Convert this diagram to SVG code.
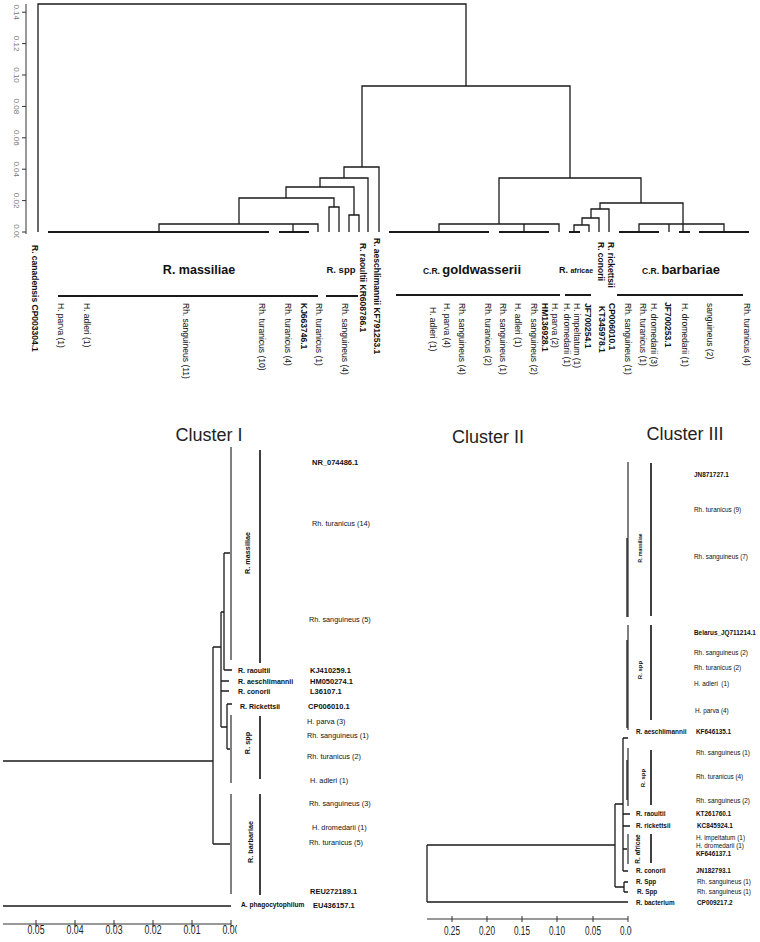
<svg xmlns="http://www.w3.org/2000/svg" width="760" height="942" viewBox="0 0 760 942">
<style>
text{font-family:"Liberation Sans",Arial,sans-serif;fill:#111}
.b{font-weight:bold}
.tl{font-size:8.5px}
.c1{font-size:7.3px}
.c1b{font-size:7.5px;font-weight:bold}
.c1n{font-size:7px;font-weight:bold}
.c3{font-size:6.4px}
.c3b{font-size:6.4px;font-weight:bold}
.ax{font-size:12px;fill:#222}
.yax{font-size:8px;fill:#777}
.title{font-size:18px;fill:#222}
.tr{fill:none;stroke:#1a1a1a;stroke-width:1.3}
.lb{fill:none;stroke:#1a1a1a;stroke-width:2}
.gr{fill:none;stroke:#808080;stroke-width:2}
.bar{fill:none;stroke:#111;stroke-width:1.6}
.axl{fill:none;stroke:#333;stroke-width:1}
</style>
<defs>
<clipPath id="clipA"><rect x="0" y="0" width="237" height="942"/></clipPath>
<clipPath id="clipB"><rect x="0" y="0" width="632" height="942"/></clipPath>
<clipPath id="clipY"><rect x="0" y="0" width="760" height="238"/></clipPath>
</defs>

<g id="connectors">
<path class="axl" stroke="#888" d="M26,4V234M22,232H26M22,200.6H26M22,169.2H26M22,137.8H26M22,106.4H26M22,75H26M22,43.6H26M22,12.2H26"/>
<path class="tr" d="M38,232V4H466V86M362,167V86H570V178M344,178V167H379V232M320,187V178H368V232M286,198V187H354V215M349,232V215H359V232M239,224V198H334V207M329,232V207H339V232M159,232V224H318V232M293,224V232"/>
<path class="tr" d="M499,224V178H641V203M439,232V224H559V232M524,224V232M600,209V203H683V232M591,218V209H609V232M582,225V218H599V232M574,232V225H589V232M639,232V224H724V232M669,224V232"/>
<path class="lb" d="M48,232H269M279,232H309M389,232H489M499,232H549M569,232H580M619,232H659M679,232H690M699,232H749"/>
<path class="lb" d="M58,296H318M326,296H358M396,295H560M565,295H591M617,295H743"/>
<path class="tr" d="M3,761H213M3,906H231M213,647V844M213,647H221M213,844H231M221,612V727M221,612H224M221,681H229M221,691H229M221,727H227M224,553V670M224,553H231M224,670H232M227,704V749M227,704H232M227,749H231"/>
<path class="gr" d="M231,447V660M231,715V783M231,794V894"/>
<path class="bar" d="M260,450V663M260,716V779M260,794V895"/>
<path class="axl" d="M3,924H231M36,920V927M75,920V927M114,920V927M153,920V927M192,920V927M231,920V927"/>
<path class="tr" d="M427,845V902M427,845H615M427,902H628M615,804V887M615,804H623M615,887H624M624,882V892M624,882H628M624,892H628M623,738V871M623,738H628M623,814H630M623,826H630M623,849H628M623,871H628"/>
<path class="gr" d="M628,462V617M628,625V730M628,748V806M628,834V864"/>
<path class="tr" d="M627,538V617M627,640V728M627,760V800"/>
<path class="bar" d="M651,463V616M651,625V720M651,750V805M651,834V863"/>
<path class="axl" d="M427,919H628M452,916V922M487,916V922M522,916V922M557,916V922M593,916V922M628,916V922"/>
</g>

<g id="top-axis-labels" clip-path="url(#clipY)">
<text class="yax" text-anchor="middle" transform="translate(14.2,12.2) rotate(90)">0.14</text>
<text class="yax" text-anchor="middle" transform="translate(14.2,43.6) rotate(90)">0.12</text>
<text class="yax" text-anchor="middle" transform="translate(14.2,75) rotate(90)">0.10</text>
<text class="yax" text-anchor="middle" transform="translate(14.2,106.4) rotate(90)">0.08</text>
<text class="yax" text-anchor="middle" transform="translate(14.2,137.8) rotate(90)">0.06</text>
<text class="yax" text-anchor="middle" transform="translate(14.2,169.2) rotate(90)">0.04</text>
<text class="yax" text-anchor="middle" transform="translate(14.2,200.6) rotate(90)">0.02</text>
<text class="yax" text-anchor="middle" transform="translate(14.2,232) rotate(90)">0.00</text>
</g>

<g id="top-leaves">
<g id="t1"><text class="tl b" transform="translate(32,245) rotate(90)">R. canadensis CP003304.1</text></g>
<g id="t2"><text class="tl" transform="translate(58,303) rotate(90)">H. parva (1)</text></g>
<g id="t3"><text class="tl" transform="translate(84,303) rotate(90)">H. adleri (1)</text></g>
<g id="t4"><text class="tl" transform="translate(183,303) rotate(90)">Rh. sanguineus (11)</text></g>
<g id="t5"><text class="tl" transform="translate(259,303) rotate(90)">Rh. turanicus (10)</text></g>
<g id="t6"><text class="tl" transform="translate(285,303) rotate(90)">Rh. turanicus (4)</text></g>
<g id="t7"><text class="tl b" transform="translate(301,303) rotate(90)">KJ663746.1</text></g>
<g id="t8"><text class="tl" transform="translate(316,303) rotate(90)">Rh. turanicus (1)</text></g>
<g id="t9"><text class="tl" transform="translate(342,303) rotate(90)">Rh. sanguineus (4)</text></g>
<g id="t10"><text class="tl b" transform="translate(360,243) rotate(90)">R. raoultii KR608786.1</text></g>
<g id="t11"><text class="tl b" transform="translate(374,238) rotate(90)">R. aeschlimannii KF791253.1</text></g>
<g id="t12"><text class="tl" transform="translate(430,307) rotate(90)">H. adleri (1)</text></g>
<g id="t13"><text class="tl" transform="translate(444,303) rotate(90)">H. parva (4)</text></g>
<g id="t14"><text class="tl" transform="translate(459,303) rotate(90)">Rh. sanguineus (4)</text></g>
<g id="t15"><text class="tl" transform="translate(485,303) rotate(90)">Rh. turanicus (2)</text></g>
<g id="t16"><text class="tl" transform="translate(500,303) rotate(90)">Rh. sanguineus (1)</text></g>
<g id="t17"><text class="tl" transform="translate(515,303) rotate(90)">H. adleri (1)</text></g>
<g id="t18"><text class="tl" transform="translate(531,303) rotate(90)">Rh. sanguineus (2)</text></g>
<g id="t19"><text class="tl b" transform="translate(542,303) rotate(90)">HM136928.1</text></g>
<g id="t20"><text class="tl" transform="translate(552,303) rotate(90)">H. parva (2)</text></g>
<g id="t21"><text class="tl" transform="translate(564,303) rotate(90)">H. dromedarii (1)</text></g>
<g id="t22"><text class="tl" transform="translate(574,303) rotate(90)">H. impeltatum (1)</text></g>
<g id="t23"><text class="tl b" transform="translate(585,303) rotate(90)">JF700254.1</text></g>
<g id="t24"><text class="tl b" transform="translate(598,242) rotate(90)">R. conorii</text></g>
<g id="t25"><text class="tl b" transform="translate(599,306) rotate(90)">KT345978.1</text></g>
<g id="t26"><text class="tl b" transform="translate(608,242) rotate(90)">R. rickettsii</text></g>
<g id="t27"><text class="tl b" transform="translate(609,303) rotate(90)">CP006010.1</text></g>
<g id="t28"><text class="tl" transform="translate(625,303) rotate(90)">Rh. sanguineus (1)</text></g>
<g id="t29"><text class="tl" transform="translate(640,303) rotate(90)">Rh. turanicus (1)</text></g>
<g id="t30"><text class="tl" transform="translate(651,303) rotate(90)">H. dromedarii (3)</text></g>
<g id="t31"><text class="tl b" transform="translate(665,302) rotate(90)">JF700253.1</text></g>
<g id="t32"><text class="tl" transform="translate(682,303) rotate(90)">H. dromedarii (1)</text></g>
<g id="t33"><text class="tl" transform="translate(707,303) rotate(90)">sanguineus (2)</text></g>
<g id="t34"><text class="tl" transform="translate(744,303) rotate(90)">Rh. turanicus (4)</text></g>
</g>

<g id="top-groups">
<g id="g-massiliae"><text class="b" font-size="12.5" x="199" y="273.5" text-anchor="middle">R. massiliae</text></g>
<g id="g-spp"><text class="b" font-size="9.5" x="341" y="273" text-anchor="middle">R. spp</text></g>
<g id="g-gold"><text class="b" x="472" y="273.5" text-anchor="middle"><tspan font-size="8.5">C.R. </tspan><tspan font-size="13">goldwasserii</tspan></text></g>
<g id="g-africae"><text class="b" x="576" y="273" text-anchor="middle"><tspan font-size="9">R. </tspan><tspan font-size="7">africae</tspan></text></g>
<g id="g-barb"><text class="b" x="681" y="273.5" text-anchor="middle"><tspan font-size="8.5">C.R. </tspan><tspan font-size="13">barbariae</tspan></text></g>
</g>

<g id="titles">
<text class="title" x="209" y="441" text-anchor="middle">Cluster I</text>
<text class="title" x="488" y="443" text-anchor="middle">Cluster II</text>
<text class="title" x="685" y="440" text-anchor="middle">Cluster III</text>
</g>

<g id="cluster1">
<g id="c1-massiliae"><text class="b" font-size="7.3" text-anchor="middle" transform="translate(249.5,553) rotate(-90)">R. massiliae</text></g>
<g id="c1-spp"><text class="b" font-size="7.3" text-anchor="middle" transform="translate(249.5,743) rotate(-90)">R. spp</text></g>
<g id="c1-barb"><text class="b" font-size="7.3" text-anchor="middle" transform="translate(252.5,842) rotate(-90)">R. barbariae</text></g>
<g id="c1a"><text class="c1b" x="312" y="464.6">NR_074486.1</text></g>
<g id="c1b"><text class="c1" x="312" y="525.6">Rh. turanicus (14)</text></g>
<g id="c1c"><text class="c1" x="309" y="621.6">Rh. sanguineus (5)</text></g>
<g id="c1d"><text class="c1n" x="238" y="672.6">R. raoultii</text><text class="c1b" x="310" y="672.6">KJ410259.1</text></g>
<g id="c1e"><text class="c1n" x="238" y="683.6">R. aeschlimannii</text><text class="c1b" x="310" y="683.6">HM050274.1</text></g>
<g id="c1f"><text class="c1n" x="238" y="693.6">R. conorii</text><text class="c1b" x="310" y="693.6">L36107.1</text></g>
<g id="c1g"><text class="c1n" x="240" y="708.6">R. Rickettsii</text><text class="c1b" x="308" y="708.6">CP006010.1</text></g>
<g id="c1h"><text class="c1" x="307" y="723.6">H. parva (3)</text></g>
<g id="c1i"><text class="c1" x="307" y="737.6">Rh. sanguineus (1)</text></g>
<g id="c1j"><text class="c1" x="307" y="758.6">Rh. turanicus (2)</text></g>
<g id="c1k"><text class="c1" x="310" y="782.6">H. adleri (1)</text></g>
<g id="c1l"><text class="c1" x="309" y="805.6">Rh. sanguineus (3)</text></g>
<g id="c1m"><text class="c1" x="312" y="829.6">H. dromedarii (1)</text></g>
<g id="c1n"><text class="c1" x="309" y="844.6">Rh. turanicus (5)</text></g>
<g id="c1o"><text class="c1b" x="310" y="893.6">REU272189.1</text></g>
<g id="c1p"><text class="b" font-size="6.6" x="241" y="907.4">A. phagocytophilum</text><text class="c1b" x="313" y="907.6">EU436157.1</text></g>
<g id="c1-axis" clip-path="url(#clipA)">
<text class="ax" x="36" y="934" text-anchor="middle" textLength="17" lengthAdjust="spacingAndGlyphs">0.05</text>
<text class="ax" x="75" y="934" text-anchor="middle" textLength="17" lengthAdjust="spacingAndGlyphs">0.04</text>
<text class="ax" x="114" y="934" text-anchor="middle" textLength="17" lengthAdjust="spacingAndGlyphs">0.03</text>
<text class="ax" x="153" y="934" text-anchor="middle" textLength="17" lengthAdjust="spacingAndGlyphs">0.02</text>
<text class="ax" x="192" y="934" text-anchor="middle" textLength="17" lengthAdjust="spacingAndGlyphs">0.01</text>
<text class="ax" x="231" y="934" text-anchor="middle" textLength="17" lengthAdjust="spacingAndGlyphs">0.00</text>
</g>
</g>

<g id="cluster3">
<g id="c3-massiliae"><text class="b" font-size="5" text-anchor="middle" transform="translate(641.8,548) rotate(-90)">R. massiliae</text></g>
<g id="c3-spp1"><text class="b" font-size="6" text-anchor="middle" transform="translate(642,670) rotate(-90)">R. spp</text></g>
<g id="c3-spp2"><text class="b" font-size="6" text-anchor="middle" transform="translate(645,778) rotate(-90)">R. spp</text></g>
<g id="c3-africae"><text class="b" font-size="6.5" text-anchor="middle" transform="translate(640.3,849) rotate(-90)">R. africae</text></g>
<g id="c3a"><text class="c3b" x="694" y="477.2">JN871727.1</text></g>
<g id="c3b"><text class="c3" x="694" y="512.2">Rh. turanicus (9)</text></g>
<g id="c3c"><text class="c3" x="694" y="559.2">Rh. sanguineus (7)</text></g>
<g id="c3d"><text class="c3b" x="694" y="635.2">Belarus_JQ711214.1</text></g>
<g id="c3e"><text class="c3" x="694" y="655.2">Rh. sanguineus (2)</text></g>
<g id="c3f"><text class="c3" x="694" y="670.2">Rh. turanicus (2)</text></g>
<g id="c3g"><text class="c3" x="694" y="686.2" style="white-space:pre">H. adleri  (1)</text></g>
<g id="c3h"><text class="c3" x="695" y="713.2">H. parva (4)</text></g>
<g id="c3i"><text class="c3b" x="636" y="734.2">R. aeschlimannii</text><text class="c3b" x="696" y="734.2">KF646135.1</text></g>
<g id="c3j"><text class="c3" x="696" y="755.2">Rh. sanguineus (1)</text></g>
<g id="c3k"><text class="c3" x="696" y="779.2">Rh. turanicus (4)</text></g>
<g id="c3l"><text class="c3" x="696" y="803.2">Rh. sanguineus (2)</text></g>
<g id="c3m"><text class="c3b" x="636" y="816.2">R. raoultii</text><text class="c3b" x="696" y="816.2">KT261760.1</text></g>
<g id="c3n"><text class="c3b" x="636" y="828.2">R. rickettsii</text><text class="c3b" x="697" y="828.2">KC845924.1</text></g>
<g id="c3o"><text class="c3" x="696" y="840.2">H. impeltatum (1)</text></g>
<g id="c3p"><text class="c3" x="696" y="848.2">H. dromedarii (1)</text></g>
<g id="c3q"><text class="c3b" x="696" y="856.2">KF646137.1</text></g>
<g id="c3r"><text class="c3b" x="636" y="873.2">R. conorii</text><text class="c3b" x="696" y="873.2">JN182793.1</text></g>
<g id="c3s"><text class="c3b" x="636" y="884.2">R. Spp</text><text class="c3" x="697" y="884.2">Rh. sanguineus (1)</text></g>
<g id="c3t"><text class="c3b" x="637" y="894.2">R. Spp</text><text class="c3" x="697" y="894.2">Rh. sanguineus (1)</text></g>
<g id="c3u"><text class="c3b" x="636" y="905.2">R. bacterium</text><text class="c3b" x="697" y="905.2">CP009217.2</text></g>
<g id="c3-axis" clip-path="url(#clipB)">
<text class="ax" x="452" y="935" text-anchor="middle" textLength="16" lengthAdjust="spacingAndGlyphs">0.25</text>
<text class="ax" x="487" y="935" text-anchor="middle" textLength="16" lengthAdjust="spacingAndGlyphs">0.20</text>
<text class="ax" x="522" y="935" text-anchor="middle" textLength="16" lengthAdjust="spacingAndGlyphs">0.15</text>
<text class="ax" x="557" y="935" text-anchor="middle" textLength="16" lengthAdjust="spacingAndGlyphs">0.10</text>
<text class="ax" x="593" y="935" text-anchor="middle" textLength="16" lengthAdjust="spacingAndGlyphs">0.05</text>
<text class="ax" x="628" y="935" text-anchor="middle" textLength="16" lengthAdjust="spacingAndGlyphs">0.00</text>
</g>
</g>
</svg>
